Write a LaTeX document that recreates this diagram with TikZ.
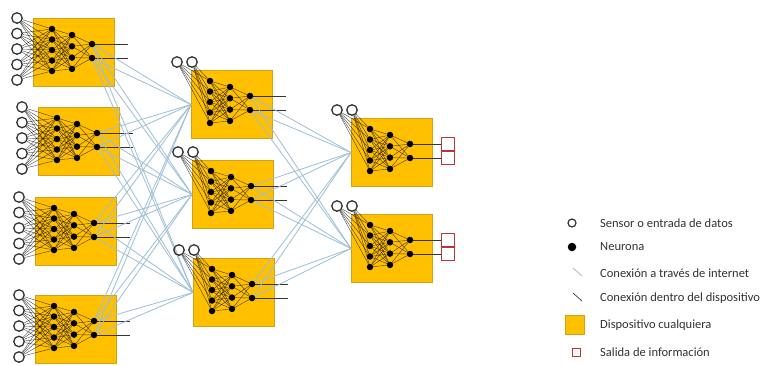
\documentclass[tikz,border=0pt]{standalone}
\usepackage{fontspec}
\setmainfont{Carlito}
\usetikzlibrary{calc}
\definecolor{amarillo}{HTML}{FFC000}
\definecolor{borde}{HTML}{D4A017}
\definecolor{azul}{HTML}{9DBFD8}
\definecolor{rojo}{HTML}{B8383D}
\definecolor{gris}{HTML}{333333}
\pgfdeclarelayer{fondo}
\pgfdeclarelayer{enlaces}
\pgfsetlayers{fondo,enlaces,main}

\tikzset{
  dispositivo/.style={draw=borde, line width=1pt, fill=amarillo, minimum width=81pt,
    minimum height=68pt, anchor=north west, inner sep=0pt},
  sensor/.style={circle, draw=gris, line width=1.3pt, minimum size=10.5pt, inner sep=0pt},
  neurona/.style={circle, fill=black, minimum size=6.5pt, inner sep=0pt},
  salida/.style={draw=rojo, line width=1pt, minimum width=13pt, minimum height=13pt, inner sep=0pt},
  interna/.style={black, opacity=.7, line width=.4pt},
  cable/.style={gris, line width=.7pt},
  internet/.style={azul, line width=.8pt},
  leyenda/.style={anchor=west, inner sep=0pt, font=\fontsize{12.5}{14}\selectfont, text=black!80},
}

% dispositivo con sus tres capas de neuronas: nombre, izquierda, arriba
\newcommand{\capas}[3]{%
  \begin{pgfonlayer}{fondo}
    \node[dispositivo] (#1) at (#2,#3) {};
  \end{pgfonlayer}
  \foreach \i in {1,...,5} \node[neurona] (#1-a\i) at ({#2+19},{#3+11+10.5*(\i-1)}) {};
  \foreach \j in {1,...,4} \node[neurona] (#1-b\j) at ({#2+39},{#3+17+11.3*(\j-1)}) {};
  \node[neurona] (#1-c1) at ({#2+59},{#3+26}) {};
  \node[neurona] (#1-c2) at ({#2+59},{#3+40}) {};
  \begin{pgfonlayer}{enlaces}
    \foreach \i in {1,...,5}{\foreach \j in {1,...,4}{\draw[interna] (#1-a\i) -- (#1-b\j);}}
    \foreach \j in {1,...,4}{\foreach \k in {1,2}{\draw[interna] (#1-b\j) -- (#1-c\k);}}
  \end{pgfonlayer}
}
% cinco sensores en columna
\newcommand{\sensorescol}[3]{%
  \foreach \s in {1,...,5} \node[sensor] (#1-s\s) at ({#2-16},{#3+15.5*(\s-1)}) {};
  \begin{pgfonlayer}{enlaces}
    \foreach \s in {1,...,5}{\foreach \i in {1,...,5}{\draw[interna] (#1-s\s) -- (#1-a\i);}}
  \end{pgfonlayer}
}
% dos sensores en fila
\newcommand{\sensoresfila}[3]{%
  \node[sensor] (#1-s1) at ({#2-14},{#3-8}) {};
  \node[sensor] (#1-s2) at ({#2+1},{#3-8}) {};
  \begin{pgfonlayer}{enlaces}
    \foreach \s in {1,2}{\foreach \i in {1,...,5}{\draw[interna] (#1-s\s) -- (#1-a\i);}}
  \end{pgfonlayer}
}
% salidas hacia fuera del dispositivo
\newcommand{\cables}[3]{%
  \coordinate (#1-o1) at ({#2+95},{#3+26});
  \coordinate (#1-o2) at ({#2+95},{#3+40});
  \begin{pgfonlayer}{enlaces}
    \draw[cable] (#1-c1) -- (#1-o1);
    \draw[cable] (#1-c2) -- (#1-o2);
  \end{pgfonlayer}
}

\begin{document}
\begin{tikzpicture}[x=1pt, y=-1pt]
  \begin{pgfonlayer}{fondo}
    \fill[white] (0,0) rectangle (766,365);
  \end{pgfonlayer}
  \useasboundingbox (0,0) rectangle (766,365);

  % primera columna
  \capas{A}{33}{18}   \sensorescol{A}{33}{18}   \cables{A}{33}{18}
  \capas{B}{38}{107}  \sensorescol{B}{38}{107}  \cables{B}{38}{107}
  \capas{C}{35}{197}  \sensorescol{C}{35}{197}  \cables{C}{35}{197}
  \capas{D}{35}{295}  \sensorescol{D}{35}{295}  \cables{D}{35}{295}

  % segunda columna
  \capas{E}{191}{70}  \sensoresfila{E}{191}{70}  \cables{E}{191}{70}
  \capas{F}{192}{160} \sensoresfila{F}{192}{160} \cables{F}{192}{160}
  \capas{G}{193}{258} \sensoresfila{G}{193}{258} \cables{G}{193}{258}

  % tercera columna
  \capas{H}{351}{118} \sensoresfila{H}{351}{118}
  \capas{I}{351}{214} \sensoresfila{I}{351}{214}
  \foreach \d in {H,I}{
    \node[salida] (\d-r1) at ($(\d-c1)+(38,0)$) {};
    \node[salida] (\d-r2) at ($(\d-c2)+(38,0)$) {};
    \begin{pgfonlayer}{enlaces}
      \draw[cable] (\d-c1) -- (\d-r1.west);
      \draw[cable] (\d-c2) -- (\d-r2.west);
    \end{pgfonlayer}
  }

  % conexiones a traves de internet
  \begin{pgfonlayer}{enlaces}
    \foreach \d in {A,B,C,D}{\foreach \e in {E,F,G}{\foreach \k in {1,2}{
      \draw[internet] (\d-c\k) -- (\e.west);}}}
    \foreach \d in {E,F,G}{\foreach \e in {H,I}{\foreach \k in {1,2}{
      \draw[internet] (\d-c\k) -- (\e.west);}}}
  \end{pgfonlayer}

  % leyenda
  \node[sensor, minimum size=8pt, line width=1.2pt] (ley-sensor) at (572,223) {};
  \node[leyenda] (txt-sensor) at (600,223) {Sensor o entrada de datos};
  \node[neurona, minimum size=8.5pt] (ley-neurona) at (572,247) {};
  \node[leyenda] (txt-neurona) at (600,247) {Neurona};
  \coordinate (ley-i1) at (573,268);
  \coordinate (ley-i2) at (582,276);
  \draw[internet] (ley-i1) -- (ley-i2);
  \node[leyenda] (txt-internet) at (600,273) {Conexión a través de internet};
  \coordinate (ley-d1) at (573,293);
  \coordinate (ley-d2) at (582,301);
  \draw[cable] (ley-d1) -- (ley-d2);
  \node[leyenda] (txt-dentro) at (600,298) {Conexión dentro del dispositivo};
  \node[dispositivo, anchor=center, minimum width=19pt, minimum height=19pt] (ley-disp) at (575,325) {};
  \node[leyenda] (txt-disp) at (600,325) {Dispositivo cualquiera};
  \node[salida, minimum width=8pt, minimum height=8pt] (ley-salida) at (576,352) {};
  \node[leyenda] (txt-salida) at (600,352) {Salida de información};
\end{tikzpicture}
\end{document}
